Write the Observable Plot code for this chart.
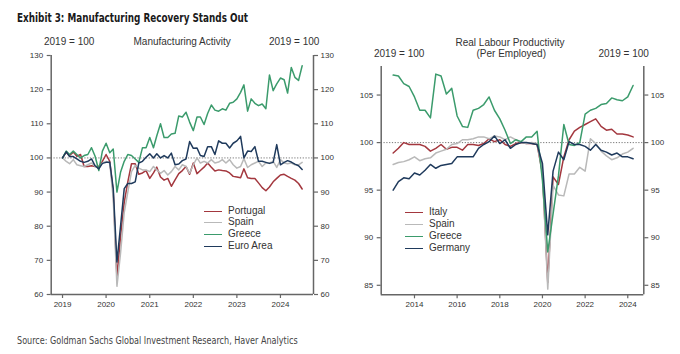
<!DOCTYPE html>
<html><head><meta charset="utf-8">
<script src="https://cdn.jsdelivr.net/npm/d3@7"></script>
<script src="https://cdn.jsdelivr.net/npm/@observablehq/plot@0.6"></script>
<style>
body{margin:0;background:#fff;}
#wrap{position:relative;width:680px;height:354px;font-family:"Liberation Sans",Arial,sans-serif;overflow:hidden;background:#fff}
.abs{position:absolute;white-space:nowrap;line-height:1}
.leg{position:absolute;font-size:10px;color:#333;line-height:1;white-space:nowrap;width:110px}
.leg .row{position:relative;height:11.9px}
.leg .sw{position:absolute;left:0;top:5px;width:18px;height:0;border-top:1.6px solid}
.leg .lb{position:absolute;left:24px;top:0;white-space:nowrap}
svg{position:absolute}
</style></head><body><div id="wrap"></div>
<script>
// ---------- data ----------
const leftSeries = ["Portugal", "Spain", "Greece", "Euro Area"];
const rightSeries = ["Italy", "Spain", "Greece", "Germany"];
const seriesColors = ["#a3373e", "#b9b9b9", "#3b9b6c", "#1f3a5c"];

// Manufacturing activity, monthly Jan 2019 - Jul 2024 (2019 = 100)
const portugal = [100,101.7,100.7,101.7,100.5,101,97.5,97.5,97.7,97.5, 97.5,99,101,99,90,65,77,87,93,98.3,
  98.3,95.2,95.6,96.3,94,95.6,97.3,94.4,93.5,94, 91.7,93.6,95.4,96.3,97.5,95.2,98.5,95.4,96.3,97.3,
  98.5,97.3,96.2,96.5,96.3,96.2,95.6,94.6,94.4,94.2, 96.8,94.2,94,94,92.7,91.3,90.4,91.5,93,94,
  95,95.2,94.6,94,93.5,92.5,90.9];
const spainMfg = [100,99,98.3,99.5,98,97.7,97.5,98,98.5,97.5, 97,98.5,99,98.5,88,62.4,72,84,90,96,
  97.8,97,96.5,96.5,96,97.5,96.5,95.5,96.3,95, 96,97.5,96.5,98,97.5,95.5,98,100,98.5,99,
  98.5,99.5,98.5,98.8,99.5,98.5,99.5,98,97,97.5, 99.8,97.2,98,98.5,99,97.5,98.5,98.5,99,97.2,
  99.5,98.5,98.3,98.5,98,98,98.7];
const greeceMfg = [100,102,101,102,101,100,100.7,101,103,100.5, 96.3,102,104.3,101.5,102.6,90,95.8,99,101,100.7,
  99.7,98.7,103,103,106,103,106.5,110,106,106, 107,107.2,112.3,112,113.4,110.5,108,112,112,109.8,
  113,115.5,114,113.7,114.4,114,116,116.3,117.3,119.2, 121.4,113.7,117.3,116,115.3,115.8,114.4,124.3,119.7,121.7,
  123.4,122.9,119,126.5,123.6,122.7,127];
const euroArea = [100,101.8,100.4,100.4,99.7,99,98.7,99,99.7,97.7, 96.8,98.4,98.7,98.7,91,69.5,80,91,92.5,92.5,
  93,98.5,99,100.2,101.2,100,101.2,100,100.7,100, 101.4,98,98.2,99.2,99.7,104.8,102.8,102.9,100.7,100.4,
  103.3,103.3,101,105,104.3,104.3,102.9,104.3,105,106.3, 100,102,101.9,103.3,99,99,98.7,98.4,98.7,103.9,
  98,98.7,99.2,98.8,98.2,97.7,96.6];

// Real labour productivity, quarterly 2013Q1 - 2024Q2 (2019 = 100)
const italy = [98.9,99.4,100,99.8,99.8,99.8,99.6,99.1,99.4,99.8, 99.3,99.5,99.5,99.2,99.8,99.8,99.7,99.9,100.4,100.1,
  100.3,99.8,99.6,99.9,100,99.9,99.9,99.8,96.8,85.3, 96.4,95.6,98.5,100.3,101.2,101.6,101.9,102.2,102.5,101.7,
  101.3,101.4,100.9,100.9,100.8,100.6];
const spainProd = [97.7,97.9,98,98.2,98.5,98.1,98.3,98.4,98.9,99.1, 99.3,99.8,99.9,100.3,100.3,100.4,100.6,100.6,100.4,100.7,
  100.6,100.3,100.6,100.3,100,99.9,100,99.9,97,84.6, 95.5,94.5,94.4,96.7,96.7,97.4,97,100.4,99.9,99.1,
  98.6,98.2,98.4,98.8,99,99.4];
const greeceProd = [107.1,107,106.2,105.9,104.8,103.4,103.4,102.6,107.2,107, 105.1,105.7,102.8,101.7,101.6,103.4,103.6,104,104.8,103.4,
  102.5,101.3,99.9,100.3,100.1,100.6,100.6,101.2,96,88.5, 92.5,96.5,101.9,99.8,99.7,100,103,103.4,103.6,104,
  104.1,104.7,104.5,104.4,104.8,106];
const germany = [95,95.9,96.3,96.2,96.8,96.6,97.1,97.7,97.3,97.6, 97.7,97.8,98.5,98.5,98.5,98.5,99.4,99.8,100.1,100.7,
  99.9,100.3,99.4,99.8,100,100,99.9,99.8,97.8,90.3, 97,99,98.2,100.1,99.8,99.8,99.6,99.2,99.8,99.2,
  99,98.7,98.9,98.5,98.5,98.3];

const leftYTicks = [60,70,80,90,100,110,120,130];
const rightYTicks = [85,90,95,100,105];
const leftXTicks = [2019,2020,2021,2022,2023,2024];
const rightXTicks = [2014,2016,2018,2020,2022,2024];
const base = 100;

// ---------- helpers ----------
const dec = (y) => { const y0 = Math.floor(y); const a = Date.UTC(y0,0,1), b = Date.UTC(y0+1,0,1); return new Date(a + (y - y0)*(b - a)); };
const yr = (y) => new Date(Date.UTC(y,0,1));
const leftDates = d3.utcMonth.range(yr(2019), new Date(Date.UTC(2024,7,1)));
const rightDates = d3.utcMonth.every(3).range(yr(2013), new Date(Date.UTC(2024,6,1)));
const toLong = (names, arrays, dates) => names.flatMap((s, j) => arrays[j].map((v, i) => ({series: s, date: dates[i], value: v})));
const leftData = toLong(leftSeries, [portugal, spainMfg, greeceMfg, euroArea], leftDates);
const rightData = toLong(rightSeries, [italy, spainProd, greeceProd, germany], rightDates);

const wrap = document.getElementById("wrap");
const axisColor = "#666";
const tickText = "#333";

function panel({data, names, xDomain, yDomain, xTicks, yTicks, margins, left, top}) {
  const [x0, x1] = xDomain, [y0, y1] = yDomain;
  const common = {fontSize: 8, tickSize: 4, stroke: axisColor, strokeWidth: 1.2, fill: tickText, label: null};
  const chart = Plot.plot({
    width: 340, height: 290,
    ...margins,
    style: {fontFamily: "'Liberation Sans', Arial, sans-serif", fontSize: "8px", color: tickText, background: "transparent", overflow: "visible"},
    x: {type: "utc", domain: [x0, x1], label: null},
    y: {domain: [y0, y1], label: null},
    color: {domain: names, range: seriesColors},
    marks: [
      Plot.ruleY([base], {stroke: "#666", strokeWidth: 0.9, strokeDasharray: "1.2,1.6"}),
      Plot.lineY(data, {x: "date", y: "value", z: "series", stroke: "series", strokeWidth: 1.5, strokeLinejoin: "round"}),
      Plot.ruleX([x0, x1], {y1: y0, y2: y1, stroke: axisColor, strokeWidth: 1.5}),
      Plot.ruleY([y0], {x1: x0, x2: x1, stroke: axisColor, strokeWidth: 1.5}),
      Plot.axisY({anchor: "left", ticks: yTicks, tickPadding: 4, ...common}),
      Plot.axisY({anchor: "right", ticks: yTicks, tickPadding: 3, ...common}),
      Plot.axisX({anchor: "bottom", ticks: xTicks.map(yr), tickFormat: d3.utcFormat("%Y"), tickPadding: 3, ...common})
    ]
  });
  chart.style.left = left + "px";
  chart.style.top = top + "px";
  wrap.appendChild(chart);
}

panel({data: leftData, names: leftSeries, xDomain: [dec(2018.74), dec(2024.757)], yDomain: [60, 130],
  xTicks: leftXTicks, yTicks: leftYTicks, margins: {marginLeft: 50.7, marginRight: 27, marginTop: 25, marginBottom: 26}, left: 0, top: 30});
panel({data: rightData, names: rightSeries, xDomain: [dec(2012.44), dec(2024.75)], yDomain: [84, 108],
  xTicks: rightXTicks, yTicks: rightYTicks, margins: {marginLeft: 40.7, marginRight: 36.7, marginTop: 36, marginBottom: 25.7}, left: 340, top: 30});

// ---------- texts ----------
function addText(str, x, y, opts = {}) {
  const d = document.createElement("div");
  d.className = "abs";
  d.textContent = str;
  d.style.fontSize = (opts.size || 10) + "px";
  d.style.color = opts.color || "#333";
  if (opts.weight) d.style.fontWeight = opts.weight;
  if (opts.family) d.style.fontFamily = opts.family;
  wrap.appendChild(d);
  const w = d.offsetWidth, h = d.offsetHeight;
  let sx = 1;
  if (opts.fitWidth) sx = opts.fitWidth / w;
  const anchorX = opts.anchor === "middle" ? x - w * sx / 2 : opts.anchor === "end" ? x - w * sx : x;
  d.style.left = anchorX + "px";
  d.style.top = (y - h / 2) + "px";
  d.style.transformOrigin = "0 50%";
  if (sx !== 1) d.style.transform = `scaleX(${sx})`;
  return d;
}
const titleText = "Exhibit 3: Manufacturing Recovery Stands Out";
const sourceText = "Source: Goldman Sachs Global Investment Research, Haver Analytics";
addText(titleText, 17, 18.5, {size: 12.5, weight: "bold", color: "#1a1a1a", fitWidth: 231, family: "'DejaVu Sans Condensed','DejaVu Sans',sans-serif"});
addText(sourceText, 17, 340.5, {size: 10, color: "#444", fitWidth: 281, family: "'DejaVu Sans Condensed','DejaVu Sans',sans-serif"});

addText("2019 = 100", 69, 41.7, {anchor: "middle", size: 10});
addText("Manufacturing Activity", 182, 41.7, {anchor: "middle", size: 10});
addText("2019 = 100", 294, 41.7, {anchor: "middle", size: 10});
addText("Real Labour Productivity", 510, 42.7, {anchor: "middle", size: 10});
addText("(Per Employed)", 511, 54, {anchor: "middle", size: 10});
addText("2019 = 100", 399, 54, {anchor: "middle", size: 10});
addText("2019 = 100", 623.5, 54, {anchor: "middle", size: 10});

function legend(names, left, top) {
  const L = document.createElement("div");
  L.className = "leg";
  L.style.left = left + "px";
  L.style.top = top + "px";
  names.forEach((n, i) => {
    const r = document.createElement("div");
    r.className = "row";
    r.innerHTML = `<div class="sw" style="border-color:${seriesColors[i]}"></div><div class="lb">${n}</div>`;
    L.appendChild(r);
  });
  wrap.appendChild(L);
}
legend(leftSeries, 204, 205.5);
legend(rightSeries, 405, 207.3);
</script></body></html>
